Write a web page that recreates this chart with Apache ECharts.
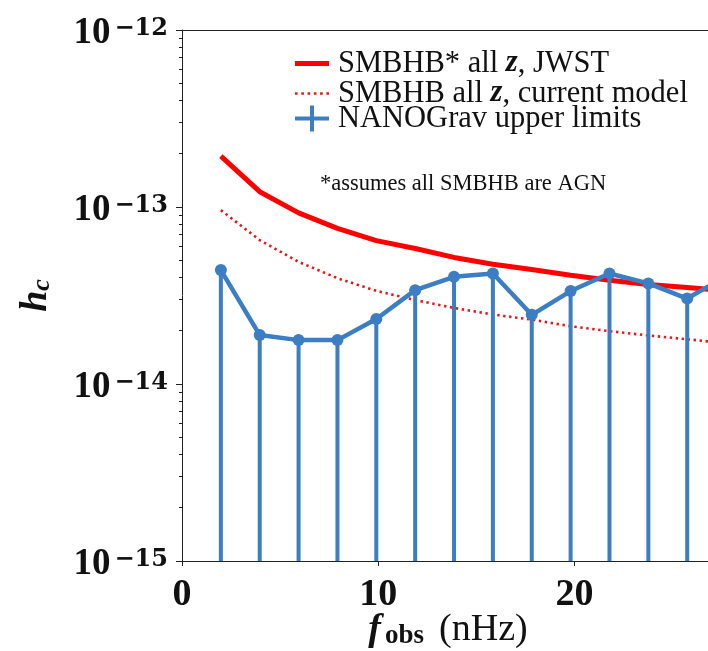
<!DOCTYPE html>
<html>
<head>
<meta charset="utf-8">
<script src="https://cdn.jsdelivr.net/npm/echarts@6/dist/echarts.min.js"></script>
<style>
  html, body { margin: 0; padding: 0; background: #ffffff; }
  #chart { width: 708px; height: 651px; }
</style>
</head>
<body>
<div id="chart"></div>
<script>
// Observed GW frequencies (nHz)
const freqs = [1.98, 3.96, 5.94, 7.92, 9.90, 11.88, 13.86, 15.84, 17.82, 19.80, 21.78, 23.76, 25.74, 27.72];
// Characteristic strain, SMBHB* all z, JWST
const hcJwst = [1.94e-13, 1.22e-13, 9.27e-14, 7.57e-14, 6.46e-14, 5.83e-14, 5.19e-14, 4.75e-14, 4.43e-14, 4.12e-14, 3.86e-14, 3.65e-14, 3.51e-14, 3.37e-14];
// Characteristic strain, SMBHB all z, current model
const hcCurrent = [9.6e-14, 6.5e-14, 4.9e-14, 3.96e-14, 3.36e-14, 2.98e-14, 2.69e-14, 2.47e-14, 2.31e-14, 2.12e-14, 1.99e-14, 1.88e-14, 1.79e-14, 1.70e-14];
// NANOGrav upper limits
const hcNanograv = [4.40e-14, 1.89e-14, 1.77e-14, 1.77e-14, 2.33e-14, 3.39e-14, 4.03e-14, 4.21e-14, 2.46e-14, 3.35e-14, 4.21e-14, 3.70e-14, 3.04e-14, 4.07e-14];

// Axis ticks
const xTicks = [0, 10, 20];
const yDecades = [1e-15, 1e-14, 1e-13, 1e-12];
const minorMantissas = [2, 3, 4, 5, 6, 7, 8, 9];

const seriesNames = ['SMBHB* all z, JWST', 'SMBHB all z, current model', 'NANOGrav upper limits'];

const SERIF = '"Liberation Serif", "Times New Roman", serif';
const INK = '#111111';
const RED = '#ff0000';
const RED_DOT = '#e8161a';
const BLUE = '#3b7ec3';
const X_MIN = 0, X_MAX = 26.8;
const Y_MIN = 1e-15, Y_MAX = 1e-12;

const minorTicks = [];
for (let d = 0; d < yDecades.length - 1; d++) {
  for (const m of minorMantissas) minorTicks.push(m * yDecades[d]);
}

const pairs = (ys) => freqs.map((f, i) => [f, ys[i]]);

// Legend glyphs
const ICON_SOLID = 'path://M0,0 H34 V5 H0 Z';
const ICON_DOTS = 'path://M0,0h2.6v2.6h-2.6z M6.2,0h2.6v2.6h-2.6z M12.4,0h2.6v2.6h-2.6z M18.6,0h2.6v2.6h-2.6z M24.8,0h2.6v2.6h-2.6z M31,0h2.6v2.6h-2.6z';
const ICON_CROSS = 'path://M0,11 H15 V0 H19 V11 H34 V15 H19 V26 H15 V15 H0 Z';

const legendText = {
  fontFamily: SERIF, fontSize: 30.5, color: INK, padding: [0, 0, 0, 4],
  rich: {
    i: { fontFamily: SERIF, fontSize: 30.5, fontStyle: 'italic', fontWeight: 'bold', color: INK }
  }
};
const legendRow = (name, icon, top) => ({
  orient: 'vertical', left: 295, top: top, padding: 0,
  itemWidth: 34, itemHeight: 26, selectedMode: false,
  data: [{ name: name, icon: icon }],
  formatter: (n) => n.replace(' z,', ' {i|z},'),
  textStyle: legendText
});

const chart = echarts.init(document.getElementById('chart'), null, { renderer: 'canvas' });

const option = {
  animation: false,
  backgroundColor: '#ffffff',
  grid: { left: 182, top: 30, right: 0, bottom: 90, show: false, outerBoundsMode: 'none', containLabel: false },
  legend: [
    legendRow(seriesNames[0], ICON_SOLID, 48),
    legendRow(seriesNames[1], ICON_DOTS, 78),
    legendRow(seriesNames[2], ICON_CROSS, 103)
  ],
  xAxis: [
    {
      type: 'value', min: X_MIN, max: X_MAX, interval: 10,
      splitLine: { show: false },
      axisLine: { lineStyle: { color: '#222', width: 1 } },
      axisTick: { length: 5, lineStyle: { color: '#222' }, customValues: xTicks },
      axisLabel: {
        customValues: xTicks,
        margin: 15, color: INK, fontFamily: SERIF, fontWeight: 'bold', fontSize: 38
      },
      name: '{f|f}{o|obs}{n|(nHz)}',
      nameLocation: 'middle', nameGap: 49, nameMoveOverlap: false,
      nameTextStyle: {
        rich: {
          f: { fontFamily: SERIF, fontSize: 38, fontStyle: 'italic', fontWeight: 'bold', color: INK, lineHeight: 40, padding: [0, 0, 0, 6] },
          o: { fontFamily: SERIF, fontSize: 27, fontWeight: 'bold', color: INK, lineHeight: 30, verticalAlign: 'bottom', padding: [0, 0, 0, 4] },
          n: { fontFamily: SERIF, fontSize: 38, color: INK, lineHeight: 40, padding: [0, 0, 0, 15] }
        }
      }
    },
    {
      // top frame line
      type: 'value', position: 'top', min: X_MIN, max: X_MAX,
      splitLine: { show: false },
      axisLine: { show: true, lineStyle: { color: '#222', width: 1 } },
      axisTick: { show: false },
      axisLabel: { show: false }
    }
  ],
  yAxis: [
    {
      type: 'log', logBase: 10, min: Y_MIN, max: Y_MAX,
      splitLine: { show: false },
      axisLine: { show: true, lineStyle: { color: '#222', width: 1 } },
      axisTick: { length: 6, lineStyle: { color: '#222' }, customValues: yDecades },
      axisLabel: {
        customValues: yDecades,
        margin: 14,
        formatter: (v) => '{b|10}{s|−' + Math.abs(Math.round(Math.log10(v))) + '}',
        rich: {
          b: { fontFamily: SERIF, fontWeight: 'bold', fontSize: 37, color: INK, lineHeight: 36, padding: [7, 0, 0, 0] },
          s: { fontFamily: '"DejaVu Serif", serif', fontWeight: 'bold', fontSize: 24, color: INK, lineHeight: 20, verticalAlign: 'top', padding: [5, 0, 0, 4] }
        }
      },
      name: '{h|h}{c|c}',
      nameLocation: 'middle', nameRotate: 90, nameGap: 127, nameMoveOverlap: false,
      nameTextStyle: {
        rich: {
          h: { fontFamily: SERIF, fontSize: 38, fontStyle: 'italic', fontWeight: 'bold', color: INK, lineHeight: 38 },
          c: { fontFamily: SERIF, fontSize: 26, fontStyle: 'italic', fontWeight: 'bold', color: INK, lineHeight: 26, verticalAlign: 'bottom' }
        }
      }
    },
    {
      // minor log ticks
      type: 'log', logBase: 10, min: Y_MIN, max: Y_MAX, position: 'left',
      splitLine: { show: false },
      axisLine: { show: false },
      axisLabel: { show: false },
      axisTick: { length: 3, lineStyle: { color: '#222' }, customValues: minorTicks }
    }
  ],
  graphic: [
    {
      type: 'text', left: 320, top: 173,
      style: { text: '*assumes all SMBHB are AGN', font: '22.5px "Liberation Serif", serif', fill: INK }
    }
  ],
  series: [
    {
      name: seriesNames[0], type: 'line', data: pairs(hcJwst),
      symbol: 'none', lineStyle: { color: RED, width: 5 }, itemStyle: { color: RED }, z: 2
    },
    {
      name: seriesNames[1], type: 'line', data: pairs(hcCurrent),
      symbol: 'none', lineStyle: { color: RED_DOT, width: 2.6, type: [2.4, 3.6] }, itemStyle: { color: RED_DOT }, z: 2
    },
    {
      name: 'limit stems', type: 'custom', data: pairs(hcNanograv), z: 3,
      renderItem: (params, api) => {
        const top = api.coord([api.value(0), api.value(1)]);
        const bot = api.coord([api.value(0), Y_MIN]);
        return {
          type: 'line',
          shape: { x1: top[0], y1: top[1], x2: bot[0], y2: bot[1] },
          style: { stroke: BLUE, lineWidth: 4 }
        };
      }
    },
    {
      name: seriesNames[2], type: 'line', data: pairs(hcNanograv),
      symbol: 'circle', symbolSize: 12, showAllSymbol: true,
      lineStyle: { color: BLUE, width: 4.5 }, itemStyle: { color: BLUE }, z: 4
    }
  ]
};

chart.setOption(option);
</script>
</body>
</html>
